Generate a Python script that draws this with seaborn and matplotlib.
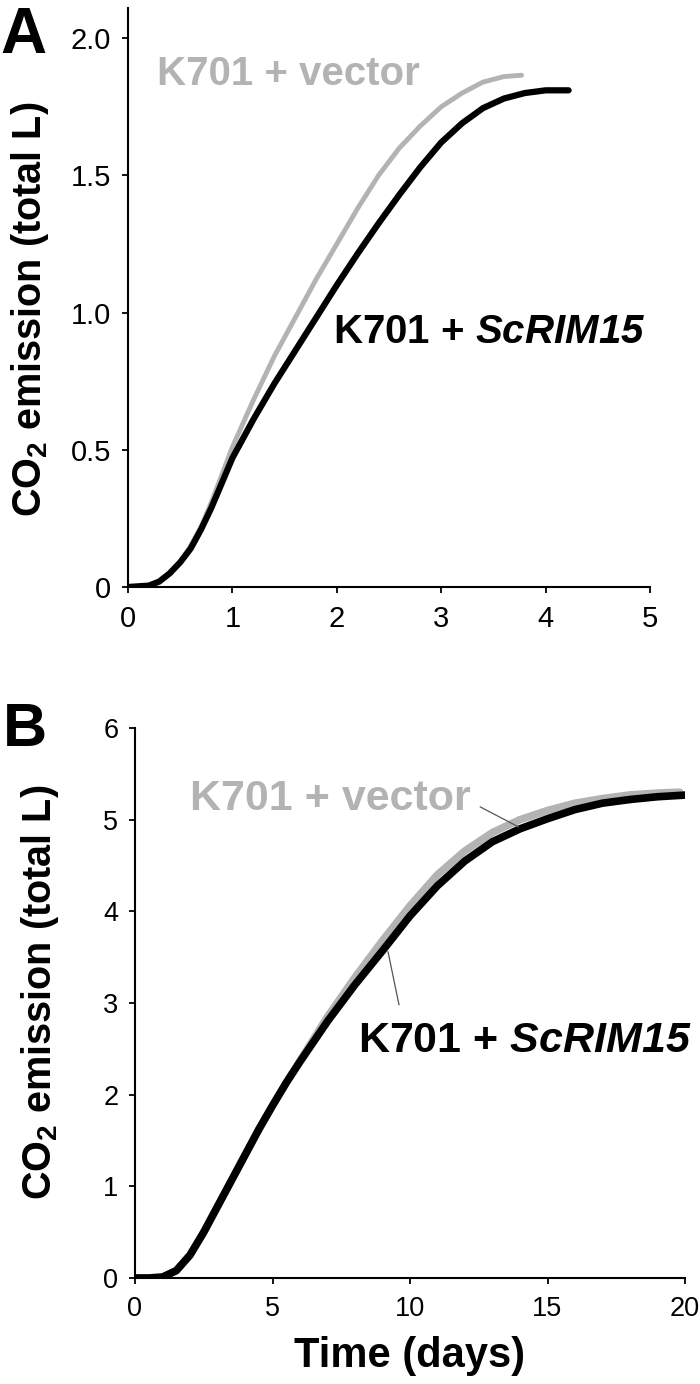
import matplotlib
matplotlib.use("Agg")
from matplotlib import pyplot as plt
import seaborn as sns

sns.set_style("ticks")
plt.rcParams['font.family'] = ['Liberation Sans', 'DejaVu Sans']
plt.rcParams['mathtext.fontset'] = 'custom'
plt.rcParams['mathtext.rm'] = 'Liberation Sans:bold'
plt.rcParams['mathtext.bf'] = 'Liberation Sans:bold'
plt.rcParams['mathtext.bfit'] = 'Liberation Sans:bold:italic'
plt.rcParams['text.color'] = 'black'
plt.rcParams['axes.labelcolor'] = 'black'

# panel A: short fermentation (days, total L)
a_vec_t = [0, 0.2, 0.3, 0.4, 0.5, 0.6, 0.7, 0.8, 0.9, 1.0, 1.2, 1.4, 1.6, 1.8, 2.0, 2.2, 2.4, 2.6, 2.8, 3.0, 3.2, 3.4, 3.6, 3.77]
a_vec_y = [0, 0.005, 0.02, 0.05, 0.09, 0.15, 0.22, 0.31, 0.41, 0.51, 0.68, 0.84, 0.98, 1.12, 1.25, 1.38, 1.50, 1.60, 1.68, 1.75, 1.80, 1.84, 1.86, 1.865]
a_rim_t = [0, 0.2, 0.3, 0.4, 0.5, 0.6, 0.7, 0.8, 0.9, 1.0, 1.2, 1.4, 1.6, 1.8, 2.0, 2.2, 2.4, 2.6, 2.8, 3.0, 3.2, 3.4, 3.6, 3.8, 4.0, 4.22]
a_rim_y = [0, 0.005, 0.02, 0.05, 0.09, 0.14, 0.21, 0.29, 0.38, 0.47, 0.61, 0.74, 0.86, 0.98, 1.10, 1.215, 1.325, 1.43, 1.53, 1.62, 1.69, 1.745, 1.78, 1.80, 1.81, 1.81]

# panel B: long fermentation
b_vec_t = [0, 0.5, 1.0, 1.5, 2.0, 2.5, 3.0, 3.5, 4.0, 4.5, 5.0, 5.5, 6.0, 7, 8, 9, 10, 11, 12, 13, 14, 15, 16, 17, 18, 19, 19.8]
b_vec_y = [0, 0, 0.01, 0.08, 0.25, 0.5, 0.78, 1.06, 1.34, 1.62, 1.88, 2.13, 2.37, 2.85, 3.28, 3.68, 4.06, 4.40, 4.66, 4.86, 5.00, 5.10, 5.18, 5.23, 5.27, 5.29, 5.30]
b_rim_t = [0, 0.5, 1.0, 1.5, 2.0, 2.5, 3.0, 3.5, 4.0, 4.5, 5.0, 5.5, 6.0, 7, 8, 9, 10, 11, 12, 13, 14, 15, 16, 17, 18, 19, 20.1]
b_rim_y = [0, 0, 0.01, 0.08, 0.25, 0.5, 0.78, 1.06, 1.34, 1.62, 1.88, 2.13, 2.36, 2.8, 3.2, 3.57, 3.95, 4.28, 4.55, 4.76, 4.90, 5.01, 5.11, 5.18, 5.22, 5.25, 5.27]

grey = '#b3b3b3'

fig = plt.figure(figsize=(7, 13.84), dpi=100)
axA = fig.add_axes([128/700, 1-587/1384, 522/700, 579/1384])
axB = fig.add_axes([135/700, 1-1278/1384, 550/700, 550/1384])

sns.lineplot(x=a_vec_t, y=a_vec_y, ax=axA, color=grey, lw=3.5)
sns.lineplot(x=a_rim_t, y=a_rim_y, ax=axA, color='black', lw=4.5)
sns.lineplot(x=b_vec_t, y=b_vec_y, ax=axB, color=grey, lw=5.5)
sns.lineplot(x=b_rim_t, y=b_rim_y, ax=axB, color='black', lw=5.5)

axA.set_xlim(0, 5)
axA.set_ylim(0, 2.11)
axA.set_xticks([0, 1, 2, 3, 4, 5])
axA.set_yticks([0, 0.5, 1.0, 1.5, 2.0])
axA.set_yticklabels(['0', '0.5', '1.0', '1.5', '2.0'])
axB.set_xlim(0, 20)
axB.set_ylim(0, 6)
axB.set_xticks([0, 5, 10, 15, 20])
axB.set_yticks([0, 1, 2, 3, 4, 5, 6])

for ax, fs in [(axA, 21), (axB, 19.5)]:
    sns.despine(ax=ax)
    for s in ['left', 'bottom']:
        ax.spines[s].set_linewidth(1.5)
        ax.spines[s].set_color('black')
    ax.tick_params(axis='both', length=4, width=1.3, labelsize=fs, colors='black')
    ax.tick_params(axis='y', pad=8)
    ax.tick_params(axis='x', pad=9)
    ax.set_ylabel(r'CO$_{\mathbf{2}}$ emission (total L)', fontsize=28.5, fontweight='bold')

axA.yaxis.set_label_coords(-0.148, 0.48)
axB.yaxis.set_label_coords(-0.135, 0.52)
axB.set_xlabel('Time (days)', fontsize=30, fontweight='bold', labelpad=10)

# annotations
axA.text(0.28, 1.87, 'K701 + vector', color=grey, fontsize=29, fontweight='bold', va='center')
axA.text(1.96, 0.93, r'K701 + $\mathbfit{ScRIM15}$', color='black', fontsize=29, fontweight='bold', va='center')

axB.text(2.0, 5.23, 'K701 + vector', color=grey, fontsize=31, fontweight='bold', va='center')
axB.plot([12.55, 13.95], [5.14, 4.92], color='#555555', lw=0.9)
axB.plot([9.2, 9.6], [3.56, 2.98], color='#555555', lw=0.9)
axB.text(8.1, 2.58, r'K701 + $\mathbfit{ScRIM15}$', color='black', fontsize=31, fontweight='bold', va='center')

fig.text(0.0, 1-53/1384, 'A', fontsize=46, fontweight='bold', va='baseline')
fig.text(0.004, 1-746/1384, 'B', fontsize=44, fontweight='bold', va='baseline')

fig.savefig('out.png', dpi=100)
